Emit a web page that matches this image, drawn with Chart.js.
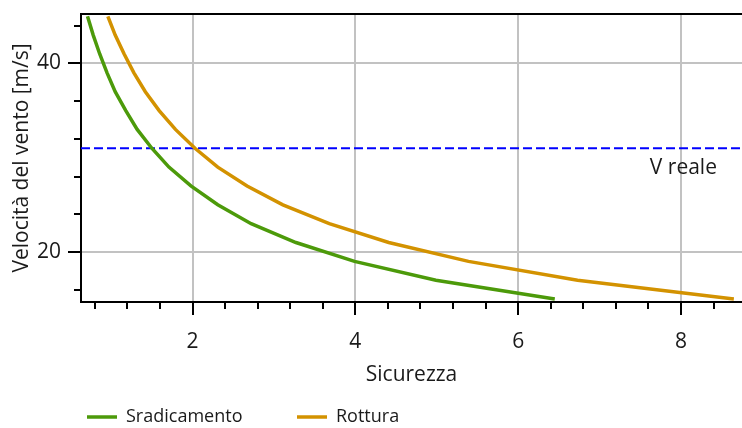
<!DOCTYPE html>
<html>
<head>
<meta charset="utf-8">
<script src="https://cdn.jsdelivr.net/npm/chart.js@4/dist/chart.umd.min.js"></script>
<style>
  html, body { margin: 0; padding: 0; background: #fff; }
</style>
</head>
<body>
<canvas id="chart" width="742" height="428"></canvas>
<script>
// wind speed (m/s) at each computed point
const speeds = [15, 17, 19, 21, 23, 25, 27, 29, 31, 33, 35, 37, 39, 41, 43, 45];
// safety factor
const sradicamento = [6.45, 4.99, 3.99, 3.27, 2.72, 2.31, 1.98, 1.71, 1.50, 1.32, 1.18, 1.05, 0.95, 0.86, 0.78, 0.71];
const rottura = [8.65, 6.73, 5.39, 4.41, 3.68, 3.11, 2.67, 2.31, 2.03, 1.79, 1.59, 1.42, 1.28, 1.16, 1.05, 0.96];
const vReale = 31;
const xTicks = [2, 4, 6, 8];
const yTicks = [20, 40];

const X_MIN = 0.63, X_MAX = 8.75;
const Y_MIN = 14.69, Y_MAX = 45.24;
const FONT = '"Open Sans", "Noto Sans", sans-serif';
const GREEN = "#4c9a0a";
const GOLD = "#d39200";
const GRID = "#c2c2c2";

function toPoints(xs) {
  return speeds.map((v, i) => ({ x: xs[i], y: v }));
}

// minor tick marks (no labels)
const xMinor = [];
for (let i = 2; i <= 21; i++) {
  const v = Math.round(i * 4) / 10;
  if (v > X_MIN && v < X_MAX && !xTicks.includes(v)) xMinor.push(v);
}
const yMinor = [];
for (let v = 16; v <= 44; v += 4) {
  if (!yTicks.includes(v)) yMinor.push(v);
}

const extras = {
  id: "extras",
  afterDraw(chart) {
    const { ctx, chartArea, scales } = chart;
    const x = scales.x, y = scales.y;
    ctx.save();
    ctx.strokeStyle = "#000";
    ctx.lineWidth = 2;
    ctx.beginPath();
    xMinor.forEach((v) => {
      const px = Math.round(x.getPixelForValue(v));
      ctx.moveTo(px, chartArea.bottom);
      ctx.lineTo(px, chartArea.bottom + 7);
    });
    yMinor.forEach((v) => {
      const py = Math.round(y.getPixelForValue(v));
      ctx.moveTo(chartArea.left, py);
      ctx.lineTo(chartArea.left - 7, py);
    });
    // top frame
    ctx.moveTo(chartArea.left, chartArea.top);
    ctx.lineTo(chartArea.right, chartArea.top);
    ctx.stroke();

    // label of the reference line
    ctx.fillStyle = "#1a1a1a";
    ctx.font = "21px " + FONT;
    ctx.textAlign = "center";
    ctx.textBaseline = "middle";
    ctx.fillText("V reale", x.getPixelForValue(8.03), y.getPixelForValue(28.9));

    // legend
    const items = chart.data.datasets.filter((d) => d.label);
    const starts = [87, 297];
    ctx.font = "18px " + FONT;
    ctx.textAlign = "left";
    items.forEach((d, i) => {
      const lx = starts[i];
      ctx.strokeStyle = d.borderColor;
      ctx.lineWidth = 3.5;
      ctx.beginPath();
      ctx.moveTo(lx, 417);
      ctx.lineTo(lx + 30, 417);
      ctx.stroke();
      ctx.fillStyle = "#1a1a1a";
      ctx.fillText(d.label, lx + 39, 417);
    });
    ctx.restore();
  },
};

new Chart(document.getElementById("chart"), {
  type: "line",
  data: {
    datasets: [
      {
        label: "Sradicamento",
        data: toPoints(sradicamento),
        borderColor: GREEN,
        borderWidth: 3.5,
        pointRadius: 0,
        tension: 0,
      },
      {
        label: "Rottura",
        data: toPoints(rottura),
        borderColor: GOLD,
        borderWidth: 3.5,
        pointRadius: 0,
        tension: 0,
      },
      {
        label: "",
        data: [
          { x: X_MIN, y: vReale },
          { x: X_MAX, y: vReale },
        ],
        borderColor: "#0000ff",
        borderWidth: 2,
        borderDash: [9, 4],
        pointRadius: 0,
      },
    ],
  },
  options: {
    responsive: false,
    animation: false,
    devicePixelRatio: 1,
    layout: { padding: { top: 14, right: -2, left: 0, bottom: 40 } },
    plugins: {
      legend: { display: false },
      tooltip: { enabled: false },
    },
    scales: {
      x: {
        type: "linear",
        min: X_MIN,
        max: X_MAX,
        afterBuildTicks: (s) => {
          s.ticks = xTicks.map((v) => ({ value: v }));
        },
        afterFit: (s) => {
          s.height = 86;
          s.paddingLeft = 0;
          s.paddingRight = 0;
        },
        ticks: {
          color: "#1a1a1a",
          font: { family: FONT, size: 21 },
          padding: 14,
          maxRotation: 0,
        },
        grid: {
          color: GRID,
          lineWidth: 2,
          tickColor: "#000",
          tickWidth: 2,
          tickLength: 13,
        },
        border: { color: "#000", width: 2 },
        title: {
          display: true,
          text: "Sicurezza",
          color: "#1a1a1a",
          font: { family: FONT, size: 21 },
          padding: { top: 0, bottom: 0 },
        },
      },
      y: {
        type: "linear",
        min: Y_MIN,
        max: Y_MAX,
        afterBuildTicks: (s) => {
          s.ticks = yTicks.map((v) => ({ value: v }));
        },
        afterFit: (s) => {
          s.width = 81;
          s.paddingTop = 0;
          s.paddingBottom = 0;
        },
        ticks: {
          color: "#1a1a1a",
          font: { family: FONT, size: 21 },
          padding: 7,
        },
        grid: {
          color: GRID,
          lineWidth: 2,
          tickColor: "#000",
          tickWidth: 2,
          tickLength: 13,
        },
        border: { color: "#000", width: 2 },
        title: {
          display: true,
          text: "Velocità del vento [m/s]",
          color: "#1a1a1a",
          font: { family: FONT, size: 21 },
          padding: { top: 9, bottom: 0 },
        },
      },
    },
  },
  plugins: [extras],
});
</script>
</body>
</html>
